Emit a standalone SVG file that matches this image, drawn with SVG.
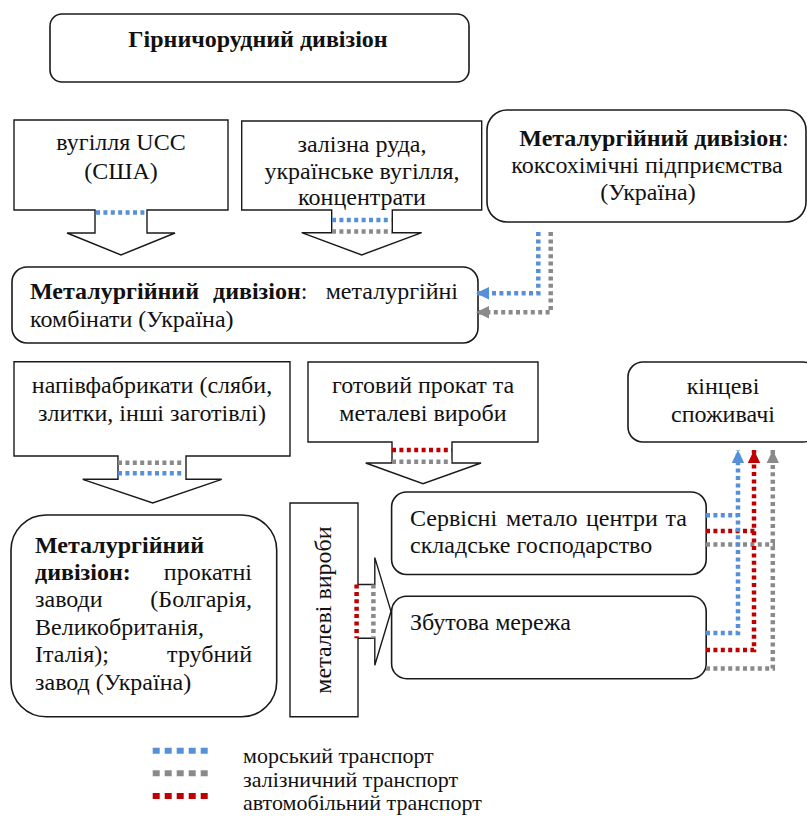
<svg xmlns="http://www.w3.org/2000/svg" width="807" height="816" viewBox="0 0 807 816">
<style>
  .box { fill: #ffffff; stroke: #1a1a1a; stroke-width: 1.6; }
  .call { fill: #ffffff; stroke: #1a1a1a; stroke-width: 1.4; stroke-linejoin: miter; }
  text { font-family: "Liberation Serif", "Times New Roman", serif; font-size: 24px; fill: #111111; }
  .b { font-weight: bold; }
  .c { text-anchor: middle; }
  .e { text-anchor: end; }
  .lt { font-size: 22px; }
  .dot { fill: none; stroke-width: 4.5; stroke-dasharray: 4 3.4; }
  .blue { stroke: #5590d8; }
  .gray { stroke: #8a8a8a; }
  .red { stroke: #c00000; }
  .leg { fill: none; stroke-width: 6; stroke-dasharray: 7 5; }
</style>
<defs>
  <marker id="ab" markerUnits="userSpaceOnUse" markerWidth="14" markerHeight="14" viewBox="0 0 14 14" refX="13" refY="7" orient="auto">
    <path d="M0,0.8 L13,7 L0,13.2 Z" fill="#5590d8"/>
  </marker>
  <marker id="ag" markerUnits="userSpaceOnUse" markerWidth="14" markerHeight="14" viewBox="0 0 14 14" refX="13" refY="7" orient="auto">
    <path d="M0,0.8 L13,7 L0,13.2 Z" fill="#8a8a8a"/>
  </marker>
  <marker id="ar" markerUnits="userSpaceOnUse" markerWidth="14" markerHeight="14" viewBox="0 0 14 14" refX="13" refY="7" orient="auto">
    <path d="M0,0.8 L13,7 L0,13.2 Z" fill="#c00000"/>
  </marker>
</defs>
<rect width="807" height="816" fill="#ffffff"/>

<g id="mining-division">
  <rect class="box" x="50" y="14" width="419" height="68" rx="12"/>
  <text class="b c" x="258" y="47">Гірничорудний дивізіон</text>
</g>

<g id="coal-ucc">
  <path class="call" d="M14,120 H228 V210 H147 V233 H175 L121,255 L67,233 H95 V210 H14 Z"/>
  <text class="c" x="121" y="150">вугілля UCC</text>
  <text class="c" x="121" y="179">(США)</text>
</g>

<g id="iron-ore">
  <path class="call" d="M241.7,121 H481.7 V210 H392.3 V232.7 H421.7 L361.7,255 L301.7,232.7 H331.7 V210 H241.7 Z"/>
  <text class="c" x="362" y="152">залізна руда,</text>
  <text class="c" x="362" y="179">українське вугілля,</text>
  <text class="c" x="362" y="205">концентрати</text>
</g>

<g id="coke-plants">
  <rect class="box" x="487" y="110" width="319" height="112" rx="20"/>
  <text class="c" x="654" y="146"><tspan class="b">Металургійний дивізіон</tspan>:</text>
  <text class="c" x="647" y="173">коксохімічні підприємства</text>
  <text class="c" x="648" y="200">(Україна)</text>
</g>

<g id="steel-plants">
  <rect class="box" x="12" y="267" width="466" height="76" rx="15"/>
  <text class="b" x="30" y="299">Металургійний</text>
  <text x="213" y="299"><tspan class="b">дивізіон</tspan>:</text>
  <text class="e" x="458" y="299">металургійні</text>
  <text x="30" y="327">комбінати (Україна)</text>
</g>

<g id="semi-finished">
  <path class="call" d="M14,361.7 H290 V456 H186 V479.3 H221.7 L152.7,503 L82.7,479.3 H118 V456 H14 Z"/>
  <text class="c" x="152" y="393">напівфабрикати (сляби,</text>
  <text class="c" x="152" y="421">злитки, інші заготівлі)</text>
</g>

<g id="finished-products">
  <path class="call" d="M308,362 H538 V442 H452 V463 H481 L423,483.7 L365.7,463 H392 V442 H308 Z"/>
  <text class="c" x="423" y="393">готовий прокат та</text>
  <text class="c" x="423" y="421">металеві вироби</text>
</g>

<g id="end-consumers">
  <rect class="box" x="628" y="362" width="190" height="80" rx="15"/>
  <text class="c" x="723" y="394">кінцеві</text>
  <text class="c" x="723" y="422">споживачі</text>
</g>

<g id="rolling-mills">
  <rect class="box" x="11" y="515" width="265.7" height="201.7" rx="35"/>
  <text class="b" x="35" y="553">Металургійний</text>
  <text class="b" x="35" y="580">дивізіон:</text>
  <text class="e" x="252" y="580">прокатні</text>
  <text x="35" y="607">заводи</text>
  <text class="e" x="252" y="607">(Болгарія,</text>
  <text x="35" y="635">Великобританія,</text>
  <text x="35" y="662">Італія);</text>
  <text class="e" x="252" y="662">трубний</text>
  <text x="35" y="690">завод (Україна)</text>
</g>

<g id="metal-products">
  <path class="call" d="M290,503 H358 V584.5 H374.8 V557.6 L391,611.4 L374.8,665.2 V638.3 H358 V716.7 H290 Z"/>
  <text class="c" transform="translate(331,610) rotate(-90)">металеві вироби</text>
</g>

<g id="service-centers">
  <rect class="box" x="391.6" y="492" width="314.6" height="82.5" rx="15"/>
  <text x="410" y="526">Сервісні</text>
  <text x="506" y="526">метало</text>
  <text x="586" y="526">центри</text>
  <text class="e" x="687" y="526">та</text>
  <text x="410" y="553">складське господарство</text>
</g>

<g id="sales-network">
  <rect class="box" x="391.6" y="596.3" width="314.6" height="82.4" rx="15"/>
  <text x="410" y="630">Збутова мережа</text>
</g>

<g id="connectors">
  <path class="dot blue" d="M96,212.5 H146"/>
  <path class="dot blue" d="M332,220 H392"/>
  <path class="dot gray" d="M332,231.5 H392"/>
  <path class="dot gray" d="M118,462.7 H184"/>
  <path class="dot blue" d="M118,473.3 H184"/>
  <path class="dot red" d="M392,450 H452"/>
  <path class="dot gray" d="M392,461.8 H452"/>
  <path class="dot red" d="M356.6,584.5 V638.3"/>
  <path class="dot gray" d="M373.4,584.5 V638.3"/>

  <path class="dot blue" d="M538.3,232 V293.3 H476" marker-end="url(#ab)"/>
  <path class="dot gray" d="M550.7,232 V312.3 H476" marker-end="url(#ag)"/>

  <path class="dot blue" d="M706,515.3 H738"/>
  <path class="dot red" d="M706,531 H756"/>
  <path class="dot gray" d="M706,544.5 H775"/>
  <path class="dot blue" d="M706,633 H738 V450" marker-end="url(#ab)"/>
  <path class="dot red" d="M706,650 H754 V450" marker-end="url(#ar)"/>
  <path class="dot gray" d="M706,668.5 H772.8 V450" marker-end="url(#ag)"/>
</g>

<g id="legend">
  <path class="leg blue" d="M152.7,750.7 H208"/>
  <path class="leg gray" d="M152.7,773.3 H208"/>
  <path class="leg red" d="M152.7,796 H208"/>
  <text class="lt" x="243" y="763">морський транспорт</text>
  <text class="lt" x="243" y="787">залізничний транспорт</text>
  <text class="lt" x="243" y="810">автомобільний транспорт</text>
</g>
</svg>
